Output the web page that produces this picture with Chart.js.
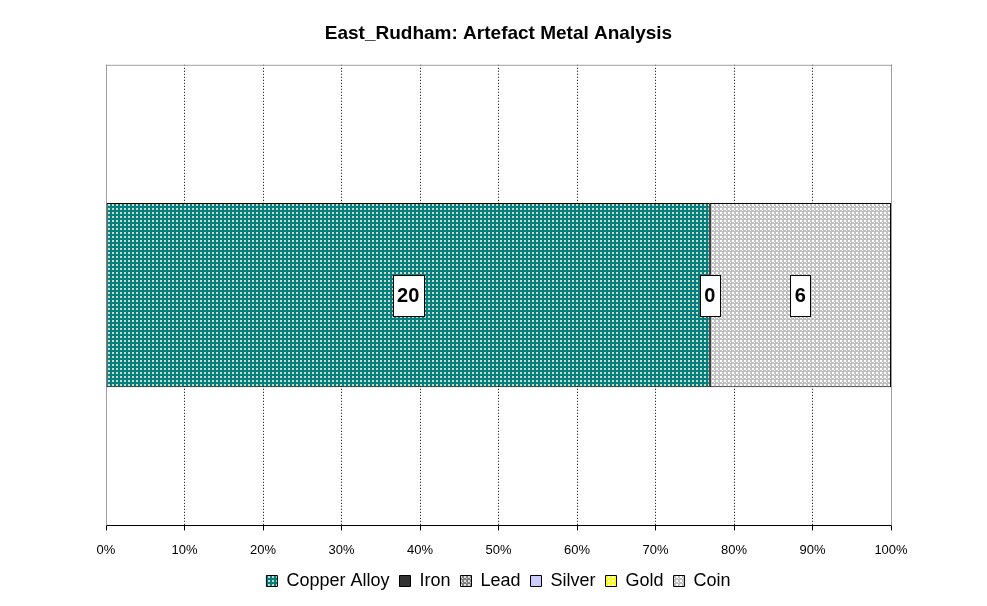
<!DOCTYPE html>
<html>
<head>
<meta charset="utf-8">
<script src="https://cdn.jsdelivr.net/npm/chart.js@4.4.1/dist/chart.umd.min.js"></script>
<style>
  html, body { margin: 0; padding: 0; background: #fff; }
  #wrap { width: 987px; height: 606px; }
</style>
</head>
<body>
<div id="wrap"><canvas id="metal-chart" width="987" height="606"></canvas></div>
<script>
const categories = ['East_Rudham'];
const seriesNames = ['Copper Alloy', 'Iron', 'Lead', 'Silver', 'Gold', 'Coin'];
const copperAlloy = [20];
const iron = [0];
const lead = [null];
const silver = [null];
const gold = [null];
const coin = [6];
const tickLabels = ['0%', '10%', '20%', '30%', '40%', '50%', '60%', '70%', '80%', '90%', '100%'];

function makePattern(base, dot, dense) {
    const c = document.createElement('canvas');
    c.width = 4;
    c.height = 4;
    const g = c.getContext('2d');
    g.fillStyle = base;
    g.fillRect(0, 0, 4, 4);
    g.fillStyle = dot;
    g.fillRect(0, 0, 2, 2);
    if (dense) g.fillRect(2, 2, 1, 1);
    return g.createPattern(c, 'repeat');
}

const copperFill = makePattern('#008080', '#d4d8c0', false);
const leadFill = makePattern('#808080', '#e0e0e0', true);
const goldFill = makePattern('#ffff00', '#ffffff', true);
const coinFill = makePattern('#c0c0c0', '#ffffff', true);

const seriesData = [copperAlloy, iron, lead, silver, gold, coin];
const seriesFills = [copperFill, '#333333', leadFill, '#ccccff', goldFill, coinFill];

const total = copperAlloy[0] + iron[0] + (lead[0] || 0) + (silver[0] || 0) + (gold[0] || 0) + coin[0];

const datasets = seriesNames.map((name, i) => ({
    label: name,
    data: seriesData[i].map(v => v === null ? null : v / total * 100),
    raw: seriesData[i],
    backgroundColor: seriesFills[i],
    borderColor: '#000000',
    borderWidth: 1,
    borderSkipped: false,
    barPercentage: 1,
    categoryPercentage: 0.4
}));

const frameAndLabels = {
    id: 'frameAndLabels',
    beforeDatasetsDraw(chart) {
        const { ctx, chartArea: a } = chart;
        ctx.save();
        ctx.strokeStyle = '#a0a0a0';
        ctx.lineWidth = 1;
        ctx.beginPath();
        ctx.moveTo(a.left + 0.5, a.bottom);
        ctx.lineTo(a.left + 0.5, a.top + 0.5);
        ctx.lineTo(a.right + 0.5, a.top + 0.5);
        ctx.lineTo(a.right + 0.5, a.bottom);
        ctx.stroke();
        ctx.restore();
    },
    afterDatasetsDraw(chart) {
        const ctx = chart.ctx;
        ctx.save();
        ctx.font = 'bold 20px "Liberation Sans", Arial, sans-serif';
        ctx.textAlign = 'center';
        ctx.textBaseline = 'middle';
        chart.data.datasets.forEach((ds, i) => {
            const meta = chart.getDatasetMeta(i);
            meta.data.forEach((bar, j) => {
                const v = ds.raw[j];
                if (v === null || v === undefined) return;
                const cx = (bar.x + bar.base) / 2;
                const cy = bar.y;
                const text = String(v);
                const w = Math.round(ctx.measureText(text).width + 9);
                const h = 41;
                const x0 = Math.round(cx - w / 2) + 0.5;
                const y0 = Math.round(cy - h / 2) + 0.5;
                ctx.fillStyle = '#ffffff';
                ctx.fillRect(x0, y0, w, h);
                ctx.strokeStyle = '#000000';
                ctx.lineWidth = 1;
                ctx.strokeRect(x0, y0, w, h);
                ctx.fillStyle = '#000000';
                ctx.fillText(text, cx, cy + 1);
            });
        });
        ctx.restore();
    }
};

const ctx = document.getElementById('metal-chart').getContext('2d');
new Chart(ctx, {
    type: 'bar',
    data: { labels: categories, datasets },
    plugins: [frameAndLabels],
    options: {
        indexAxis: 'y',
        responsive: false,
        animation: false,
        layout: { padding: { left: 106, right: 96, top: 0, bottom: 6 } },
        scales: {
            x: {
                stacked: true,
                min: 0,
                max: 100,
                afterFit: (scale) => { scale.height -= 8; },
                ticks: {
                    stepSize: 10,
                    color: '#000000',
                    padding: 12,
                    font: { family: '"Liberation Sans", Arial, sans-serif', size: 13 },
                    callback: (v, i) => tickLabels[i]
                },
                grid: {
                    color: '#000000',
                    lineWidth: 1,
                    tickLength: 5,
                    drawOnChartArea: true
                },
                border: { display: true, color: '#000000', width: 1, dash: [1, 2] }
            },
            y: {
                stacked: true,
                display: false
            }
        },
        plugins: {
            title: {
                display: true,
                text: 'East_Rudham: Artefact Metal Analysis',
                color: '#000000',
                font: { family: '"Liberation Sans", Arial, sans-serif', size: 19, weight: 'bold' },
                padding: { top: 22, bottom: 20 }
            },
            legend: {
                position: 'bottom',
                labels: {
                    color: '#000000',
                    boxWidth: 11,
                    boxHeight: 11,
                    padding: 10,
                    font: { family: '"Liberation Sans", Arial, sans-serif', size: 18 }
                }
            },
            tooltip: { enabled: false }
        }
    }
});
</script>
</body>
</html>
